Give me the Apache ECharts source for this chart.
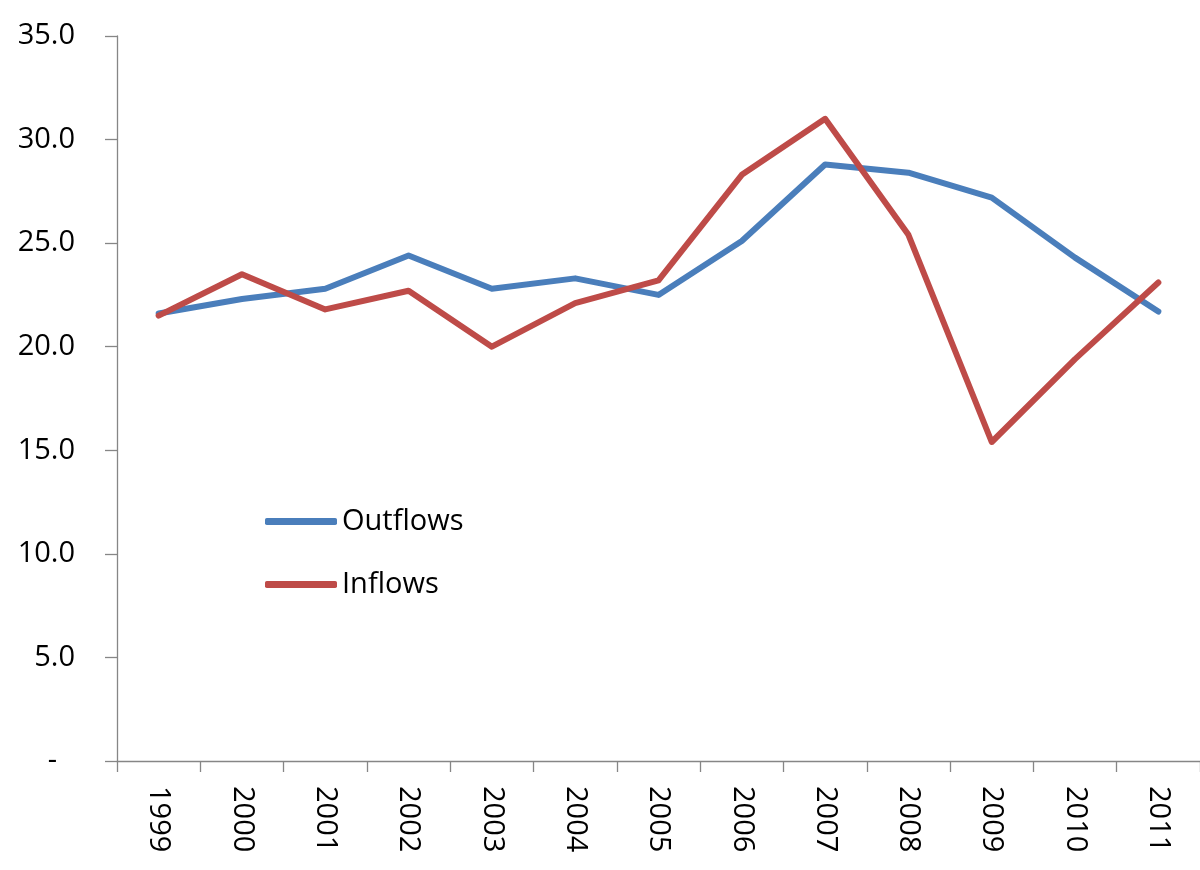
<!DOCTYPE html>
<html>
<head>
<meta charset="utf-8">
<script src="https://cdn.jsdelivr.net/npm/echarts@6/dist/echarts.min.js"></script>
<style>
html,body{margin:0;padding:0;background:#fff;}
#chart{width:1200px;height:870px;}
</style>
</head>
<body>
<div id="chart"></div>
<script>
const years = ['1999','2000','2001','2002','2003','2004','2005','2006','2007','2008','2009','2010','2011'];
const outflows = [21.6, 22.3, 22.8, 24.4, 22.8, 23.3, 22.5, 25.1, 28.8, 28.4, 27.2, 24.3, 21.7];
const inflows  = [21.5, 23.5, 21.8, 22.7, 20.0, 22.1, 23.2, 28.3, 31.0, 25.4, 15.4, 19.4, 23.1];
const yTicks = {min: 0, max: 35, interval: 5};

const FONT = '"Open Sans", "DejaVu Sans", sans-serif';
const chart = echarts.init(document.getElementById('chart'));
chart.setOption({
  animation: false,
  backgroundColor: '#ffffff',
  grid: {left: 117, right: 0, top: 36, bottom: 109, containLabel: false},
  legend: {
    orient: 'vertical',
    left: 260,
    top: 502,
    itemGap: 34,
    itemWidth: 72,
    itemHeight: 7,
    icon: 'roundRect',
    textStyle: {fontFamily: FONT, fontSize: 29, color: '#000'},
    data: ['Outflows', 'Inflows']
  },
  xAxis: {
    type: 'category',
    data: years,
    boundaryGap: true,
    axisLine: {lineStyle: {color: '#868686', width: 1.3}},
    axisTick: {show: true, length: 11, lineStyle: {color: '#868686', width: 1.3}},
    axisLabel: {rotate: -90, margin: 25, fontFamily: FONT, fontSize: 29, color: '#000'},
    splitLine: {show: false}
  },
  yAxis: {
    type: 'value',
    min: yTicks.min,
    max: yTicks.max,
    interval: yTicks.interval,
    axisLine: {show: true, lineStyle: {color: '#868686', width: 1.3}},
    axisTick: {show: true, inside: false, length: 12, lineStyle: {color: '#868686', width: 1.3}},
    splitLine: {show: false},
    axisLabel: {
      margin: 42,
      fontFamily: FONT,
      fontSize: 29,
      color: '#000',
      formatter: function (v) { return v === 0 ? '{d|-}' : v.toFixed(1); },
      rich: {d: {fontFamily: FONT, fontSize: 29, color: '#000', padding: [0, 18, 0, 0]}}
    }
  },
  series: [
    {
      name: 'Outflows', type: 'line', data: outflows,
      showSymbol: false, symbol: 'none',
      lineStyle: {color: '#4A7EBB', width: 6, cap: 'round', join: 'round'},
      itemStyle: {color: '#4A7EBB'}
    },
    {
      name: 'Inflows', type: 'line', data: inflows,
      showSymbol: false, symbol: 'none',
      lineStyle: {color: '#BE4B48', width: 6, cap: 'round', join: 'round'},
      itemStyle: {color: '#BE4B48'}
    }
  ]
});
</script>
</body>
</html>
